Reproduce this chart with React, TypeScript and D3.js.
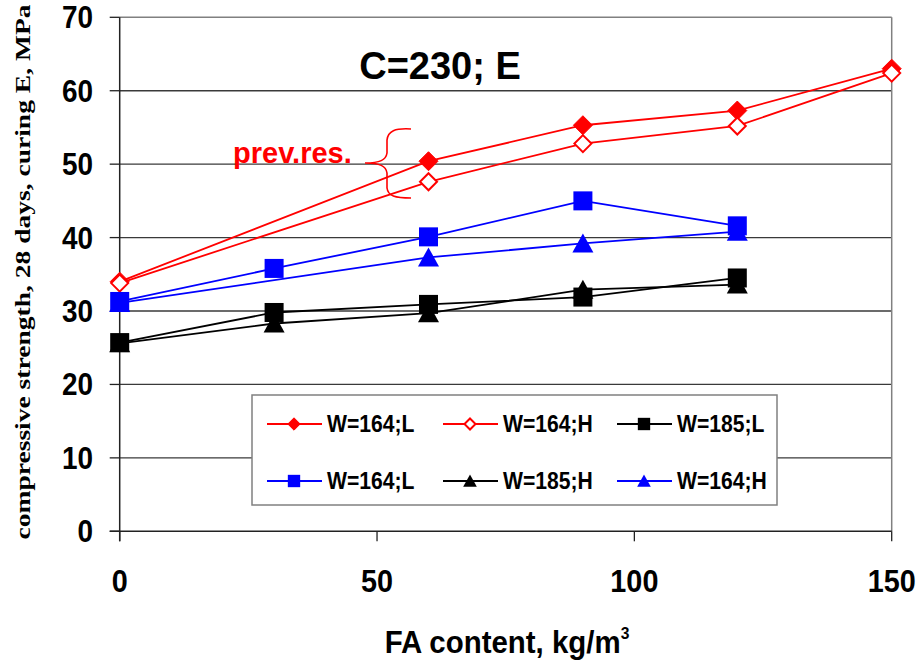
import React from "react";
import * as d3 from "d3";

const xTickValues = [0, 50, 100, 150];
const yTickValues = [0, 10, 20, 30, 40, 50, 60, 70];

const redFilledX = [0, 60, 90, 120, 150];
const redFilledY = [34.0, 50.4, 55.3, 57.3, 63.0];
const redOpenX = [0, 60, 90, 120, 150];
const redOpenY = [33.8, 47.6, 52.8, 55.2, 62.4];
const blackSquareX = [0, 30, 60, 90, 120];
const blackSquareY = [25.7, 29.8, 30.9, 31.9, 34.5];
const blueSquareX = [0, 30, 60, 90, 120];
const blueSquareY = [31.3, 35.8, 40.1, 45.0, 41.6];
const blackTriX = [0, 30, 60, 90, 120];
const blackTriY = [25.6, 28.3, 29.7, 32.9, 33.6];
const blueTriX = [0, 60, 90, 120];
const blueTriY = [31.1, 37.3, 39.2, 40.8];

type Marker = "diamondFilled" | "diamondOpen" | "square" | "triangle";
interface Series { label: string; color: string; marker: Marker; xs: number[]; ys: number[]; }

const series: Series[] = [
  { label: "W=164;L", color: "#ff0000", marker: "diamondFilled", xs: redFilledX, ys: redFilledY },
  { label: "W=164;H", color: "#ff0000", marker: "diamondOpen", xs: redOpenX, ys: redOpenY },
  { label: "W=185;L", color: "#000000", marker: "square", xs: blackSquareX, ys: blackSquareY },
  { label: "W=164;L", color: "#0000ff", marker: "square", xs: blueSquareX, ys: blueSquareY },
  { label: "W=185;H", color: "#000000", marker: "triangle", xs: blackTriX, ys: blackTriY },
  { label: "W=164;H", color: "#0000ff", marker: "triangle", xs: blueTriX, ys: blueTriY },
];

const W = 924, H = 671;
const left = 119.7, right = 891.7, top = 17.3, bottom = 531.3;
const x = d3.scaleLinear().domain([0, 150]).range([left, right]);
const y = d3.scaleLinear().domain([0, 70]).range([bottom, top]);

function MarkerShape({ m, cx, cy, color, k = 1 }: { m: Marker; cx: number; cy: number; color: string; k?: number }) {
  if (m === "diamondFilled" || m === "diamondOpen") {
    const open = m === "diamondOpen";
    const rr = (open ? 8.5 : 9.5) * k;
    return (
      <path
        d={`M${cx},${cy - rr}L${cx + rr},${cy}L${cx},${cy + rr}L${cx - rr},${cy}Z`}
        fill={open ? "#ffffff" : color}
        stroke={color}
        strokeWidth={open ? 2 : 1}
      />
    );
  }
  if (m === "square") {
    const s = 9.5 * k;
    return <rect x={cx - s} y={cy - s} width={2 * s} height={2 * s} fill={color} />;
  }
  const hw = 10.5 * k, hh = 10 * k;
  return <path d={`M${cx},${cy - hh}L${cx + hw},${cy + hh - k}L${cx - hw},${cy + hh - k}Z`} fill={color} />;
}

const legendCols = [267, 443, 617];
const legendRows = [424, 481];

export default function App() {
  const line = d3.line<[number, number]>().x((d) => x(d[0])).y((d) => y(d[1]));
  const sans = "'Liberation Sans', Arial, sans-serif";
  return (
    <div style={{ position: "fixed", left: 0, top: 0 }}>
      <svg width={W} height={H} style={{ display: "block", background: "#fff" }}>
        {yTickValues.filter((v) => v > 0 && v < 70).map((v) => (
          <line key={v} x1={left} x2={right} y1={y(v)} y2={y(v)} stroke="#3a3a3a" strokeWidth={1.3} />
        ))}
        <line x1={left} x2={right} y1={top} y2={top} stroke="#808080" strokeWidth={1.5} />
        <line x1={right} x2={right} y1={top} y2={bottom} stroke="#808080" strokeWidth={1.5} />
        <line x1={left} x2={left} y1={top} y2={bottom + 10} stroke="#222" strokeWidth={1.5} />
        <line x1={left - 10} x2={right} y1={bottom} y2={bottom} stroke="#222" strokeWidth={1.5} />
        {yTickValues.map((v) => (
          <g key={"yt" + v}>
            <line x1={left - 10} x2={left} y1={y(v)} y2={y(v)} stroke="#222" strokeWidth={1.3} />
            <text
              transform={`translate(93,${y(v) + 11}) scale(0.9,1)`}
              textAnchor="end"
              fontFamily={sans}
              fontWeight="bold"
              fontSize={31}
            >
              {v}
            </text>
          </g>
        ))}
        {xTickValues.map((v) => (
          <g key={"xt" + v}>
            <line x1={x(v)} x2={x(v)} y1={bottom} y2={bottom + 10} stroke="#222" strokeWidth={1.3} />
            <text
              transform={`translate(${x(v)},592) scale(0.9,1)`}
              textAnchor="middle"
              fontFamily={sans}
              fontWeight="bold"
              fontSize={32}
            >
              {v}
            </text>
          </g>
        ))}
        <text
          transform="translate(507,653) scale(0.92,1)"
          textAnchor="middle"
          fontFamily={sans}
          fontWeight="bold"
          fontSize={32}
        >
          FA content, kg/m<tspan dy={-14} fontSize={17}>3</tspan>
        </text>
        <text
          transform="translate(30,272) rotate(-90)"
          textAnchor="middle"
          fontFamily="'Liberation Serif', 'Times New Roman', serif"
          fontWeight="bold"
          fontSize={22}
          textLength={535}
          lengthAdjust="spacingAndGlyphs"
        >
          compressive strength, 28 days, curing E, MPa
        </text>
        <text x={440} y={79} textAnchor="middle" fontFamily={sans} fontWeight="bold" fontSize={38}>
          C=230; E
        </text>
        <text x={233} y={163} fontFamily={sans} fontWeight="bold" fontSize={29} fill="#ff0000">
          prev.res.
        </text>
        <path
          d="M411,129 C395,128 388,131 387,140 L387,153 C386,160 380,163 365,163 C380,163 386,166 387,173 L387,188 C388,196 395,198 411,198"
          fill="none"
          stroke="#ff0000"
          strokeWidth={1.6}
        />
        {series.map((s, i) => {
          const pts = s.xs.map((xv, j) => [xv, s.ys[j]] as [number, number]);
          return (
            <g key={"s" + i}>
              <path d={line(pts) || ""} fill="none" stroke={s.color} strokeWidth={1.8} />
              {pts.map((p, j) => (
                <MarkerShape key={j} m={s.marker} cx={x(p[0])} cy={y(p[1])} color={s.color} />
              ))}
            </g>
          );
        })}
        <rect x={252} y={395} width={525} height={110} fill="#fff" stroke="#808080" strokeWidth={1.5} />
        {series.map((s, i) => {
          const col = legendCols[i % 3];
          const row = legendRows[Math.floor(i / 3)];
          return (
            <g key={"l" + i}>
              <line x1={col} x2={col + 55} y1={row} y2={row} stroke={s.color} strokeWidth={1.8} />
              <MarkerShape m={s.marker} cx={col + 27} cy={row} color={s.color} k={0.65} />
              <text
                transform={`translate(${col + 60},${row + 8}) scale(0.92,1)`}
                fontFamily={sans}
                fontWeight="bold"
                fontSize={23}
              >
                {s.label}
              </text>
            </g>
          );
        })}
      </svg>
    </div>
  );
}
